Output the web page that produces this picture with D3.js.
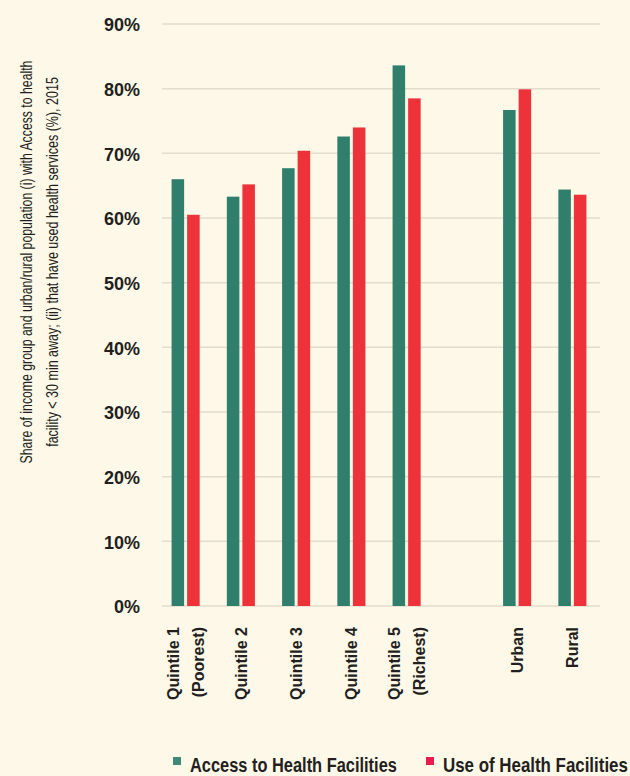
<!DOCTYPE html>
<html>
<head>
<meta charset="utf-8">
<script src="https://cdn.jsdelivr.net/npm/d3@7"></script>
<style>
  html, body { margin: 0; padding: 0; background: #fdf8e8; }
  svg { display: block; }
</style>
</head>
<body>
<div id="chart"></div>
<script>
// data
const categories = ["Quintile 1|(Poorest)", "Quintile 2", "Quintile 3", "Quintile 4", "Quintile 5|(Richest)", "Urban", "Rural"];
const accessValues = [66.0, 63.3, 67.7, 72.6, 83.6, 76.7, 64.4];
const useValues = [60.5, 65.2, 70.4, 74.0, 78.5, 79.9, 63.6];
const seriesNames = ["Access to Health Facilities", "Use of Health Facilities"];
const seriesColors = ["#2f7f6c", "#ee3239"];
const legendColors = ["#3f8a76", "#e81a50"];
const yTicks = [0, 10, 20, 30, 40, 50, 60, 70, 80, 90];
const yTitle = [
  "Share of income group and urban/rural population (i) with Access to health",
  "facility < 30 min away;  (ii) that have used health services (%), 2015"
];

const W = 630, H = 776;
const plot = {left: 162, right: 600, top: 24, bottom: 606};
const font = "'Liberation Sans', Arial, sans-serif";

const svg = d3.select("#chart").append("svg")
  .attr("width", W).attr("height", H);

svg.append("rect").attr("width", W).attr("height", H).attr("fill", "#fdf8e8");

// squeeze a text horizontally so it is `target` px long (mimics a condensed face)
function squeeze(sel, target) {
  const w = sel.node().getComputedTextLength();
  return Math.min(1, target / w);
}

// a blank slot sits between the quintiles and urban/rural
const slots = categories.slice(0, 5).concat(["_gap"], categories.slice(5));

const x0 = d3.scaleBand()
  .domain(slots)
  .range([plot.left - 4, plot.right])
  .paddingInner(0.492)
  .paddingOuter(0.246);

const x1 = d3.scaleBand()
  .domain(seriesNames)
  .range([0, x0.bandwidth()])
  .paddingInner(0.194);

const y = d3.scaleLinear().domain([0, 90]).range([plot.bottom, plot.top]);

// gridlines
svg.append("g")
  .selectAll("line")
  .data(yTicks)
  .enter().append("line")
    .attr("x1", plot.left).attr("x2", plot.right)
    .attr("y1", d => y(d)).attr("y2", d => y(d))
    .attr("stroke", "#e2ddcc")
    .attr("stroke-width", 1.5);

// y axis labels
const yAxis = d3.axisLeft(y).tickValues(yTicks).tickSize(0).tickPadding(0)
  .tickFormat(d => d + "%");
svg.append("g")
  .attr("transform", "translate(140,0)")
  .call(yAxis)
  .call(g => g.select(".domain").remove())
  .call(g => g.selectAll("text")
    .attr("font-family", font)
    .attr("font-weight", "bold")
    .attr("font-size", 18)
    .attr("fill", "#231f20")
    .attr("dy", "0.38em"));

// bars
const rows = categories.map((c, i) => ({cat: c, vals: [accessValues[i], useValues[i]]}));

const groups = svg.append("g")
  .selectAll("g")
  .data(rows)
  .enter().append("g")
    .attr("transform", d => "translate(" + x0(d.cat) + ",0)");

groups.selectAll("rect")
  .data(d => d.vals.map((v, i) => ({name: seriesNames[i], v: v, i: i})))
  .enter().append("rect")
    .attr("x", d => x1(d.name))
    .attr("width", x1.bandwidth())
    .attr("y", d => y(d.v))
    .attr("height", d => y(0) - y(d.v))
    .attr("fill", d => seriesColors[d.i]);

// x labels, rotated
groups.each(function(d) {
  const lines = d.cat.split("|");
  const cx = x0.bandwidth() / 2;
  const offsets = lines.length === 1 ? [0] : [-12.5, 12.5];
  lines.forEach((ln, k) => {
    d3.select(this).append("text")
      .attr("transform", "translate(" + (cx + offsets[k]) + ",627) rotate(-90)")
      .attr("text-anchor", "end")
      .attr("dy", "0.36em")
      .attr("font-family", font)
      .attr("font-weight", "bold")
      .attr("font-size", 16)
      .attr("fill", "#231f20")
      .text(ln);
  });
});

// y title, condensed to the reference width
const titleLens = [403, 370];
yTitle.forEach((t, k) => {
  const txt = svg.append("text")
    .attr("text-anchor", "middle")
    .attr("dy", "0.35em")
    .attr("font-family", font)
    .attr("font-size", 16)
    .attr("fill", "#231f20")
    .text(t);
  const s = squeeze(txt, titleLens[k]);
  txt.attr("transform", "translate(" + (26 + k * 26) + ",262) rotate(-90) scale(" + s + ",1)");
});

// legend
const legendX = [173, 426];
const legendLens = [207, 185];
const legend = svg.append("g");
seriesNames.forEach((n, i) => {
  legend.append("rect")
    .attr("x", legendX[i]).attr("y", 757)
    .attr("width", 8).attr("height", 8)
    .attr("fill", legendColors[i]);
  const txt = legend.append("text")
    .attr("font-family", font)
    .attr("font-weight", "bold")
    .attr("font-size", 20)
    .attr("fill", "#231f20")
    .text(n);
  const s = squeeze(txt, legendLens[i]);
  txt.attr("transform", "translate(" + (legendX[i] + 17) + ",772) scale(" + s + ",1)");
});
</script>
</body>
</html>
